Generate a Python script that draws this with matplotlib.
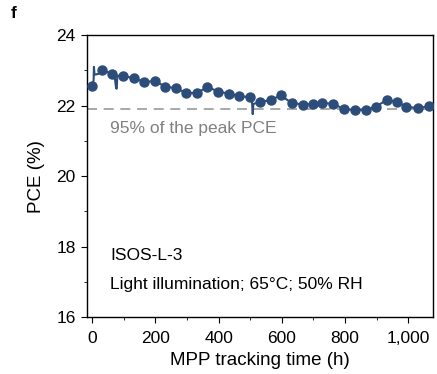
import matplotlib
matplotlib.use("Agg")
import matplotlib.pyplot as plt
from matplotlib.ticker import MultipleLocator, FuncFormatter

plt.rcParams['font.family'] = ['Liberation Sans', 'DejaVu Sans']

# MPP trace (h, %) including the short spikes
time_h = [0, 5, 6, 8, 20, 33, 50, 64, 72, 76, 78, 80, 99, 133, 165, 199, 231, 264, 298,
          332, 365, 399, 433, 466, 499, 505, 508, 510, 531, 565, 596, 631, 666,
          699, 728, 763, 797, 831, 865, 897, 931, 963, 994, 1029, 1065]
pce = [22.57, 22.72, 23.10, 22.88, 22.90, 23.02, 22.95, 22.90, 22.80, 22.50, 22.48, 22.85, 22.84,
       22.78, 22.67, 22.70, 22.54, 22.50, 22.36, 22.36, 22.53, 22.40, 22.34, 22.27,
       22.24, 22.20, 21.76, 22.05, 22.10, 22.16, 22.29, 22.08, 22.03, 22.05, 22.08,
       22.05, 21.90, 21.88, 21.88, 21.97, 22.16, 22.11, 21.97, 21.93, 21.98]
spike_times = [5, 6, 8, 20, 50, 72, 76, 78, 80, 505, 508, 510]
marker_idx = [i for i, t in enumerate(time_h) if t not in spike_times]

peak_pce = 23.05
threshold = 0.95 * peak_pce

fig = plt.figure(figsize=(4.37, 3.74), dpi=100)
ax = fig.add_axes([0.199, 0.152, 0.792, 0.754])

ax.axhline(threshold, color="#9a9a9a", lw=1.2, ls=(0, (6, 4)), zorder=1)
ax.plot(time_h, pce, color="#2c4c7a", lw=1.5, marker="o", ms=6.5,
        markevery=marker_idx, zorder=3)

ax.text(57, 21.34, "95% of the peak PCE", color="#808080", fontsize=12.5, va="center")
ax.text(57, 17.74, "ISOS-L-3", fontsize=12.5, va="center")
ax.text(57, 16.94, "Light illumination; 65\u00b0C; 50% RH", fontsize=12.5, va="center")

ax.set_xlim(-16, 1078)
ax.set_ylim(16, 24)
ax.xaxis.set_major_locator(MultipleLocator(200))
ax.xaxis.set_minor_locator(MultipleLocator(100))
ax.yaxis.set_major_locator(MultipleLocator(2))
ax.yaxis.set_minor_locator(MultipleLocator(1))
ax.xaxis.set_major_formatter(FuncFormatter(lambda v, p: f"{int(v):,}"))
ax.tick_params(which="both", direction="out", labelsize=12.5, top=False, right=False)
ax.tick_params(which="major", length=4, pad=4)
ax.tick_params(axis="x", which="major", pad=6)
ax.tick_params(which="minor", length=2.5)
ax.set_xlabel("MPP tracking time (h)", fontsize=13.5, labelpad=4)
ax.set_ylabel("PCE (%)", fontsize=13.5, labelpad=8)
for s in ax.spines.values():
    s.set_linewidth(1.0)

fig.text(0.025, 0.965, "f", fontsize=12.5, fontweight="bold", va="center")

fig.savefig("out.png", dpi=100)
